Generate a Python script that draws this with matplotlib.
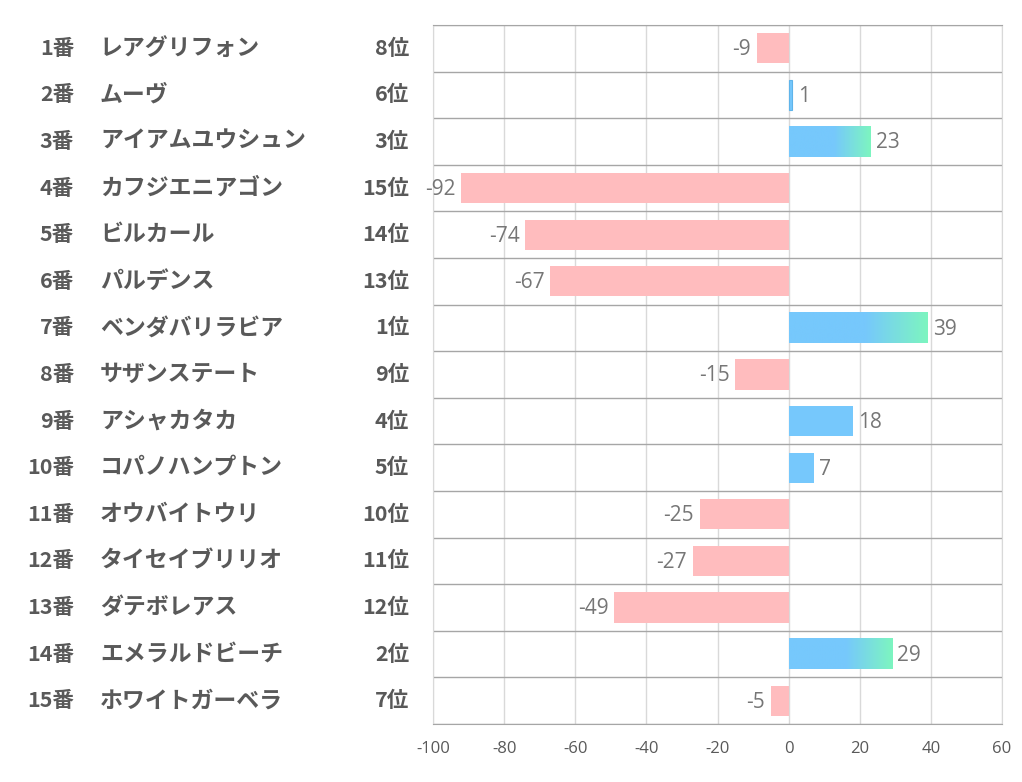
import numpy as np
import matplotlib
matplotlib.use('agg')
import matplotlib.pyplot as plt
from matplotlib.colors import LinearSegmentedColormap
from matplotlib.transforms import blended_transform_factory

plt.rcParams['font.family'] = ['Noto Sans CJK JP', 'DejaVu Sans']
plt.rcParams['axes.unicode_minus'] = False

numbers = ['1番', '2番', '3番', '4番', '5番', '6番', '7番', '8番', '9番', '10番',
           '11番', '12番', '13番', '14番', '15番']
names = ['レアグリフォン', 'ムーヴ', 'アイアムユウシュン', 'カフジエニアゴン', 'ビルカール',
         'パルデンス', 'ベンダバリラビア', 'サザンステート', 'アシャカタカ', 'コパノハンプトン',
         'オウバイトウリ', 'タイセイブリリオ', 'ダテボレアス', 'エメラルドビーチ', 'ホワイトガーベラ']
ranks = ['8位', '6位', '3位', '15位', '14位', '13位', '1位', '9位', '4位', '5位',
         '10位', '11位', '12位', '2位', '7位']
values = [-9, 1, 23, -92, -74, -67, 39, -15, 18, 7, -25, -27, -49, 29, -5]

blue = '#76c8fc'
green = '#7df5c0'
pink = '#ffbcbe'
grad = LinearSegmentedColormap.from_list('bg', [(0, blue), (0.55, blue), (1, green)])

fig = plt.figure(figsize=(10.22, 7.82), dpi=100)
ax = fig.add_axes([433 / 1022, 1 - 724 / 782, 569 / 1022, 699 / 782])

y = np.arange(len(values))
colors = [blue if v > 0 else pink for v in values]
bars = ax.barh(y, values, height=0.65, color=colors, zorder=3)

# gradient fill for the bigger positive bars
for b, v in zip(bars, values):
    if v > 20:
        b.set_alpha(0)
        img = np.linspace(0, 1, 200).reshape(1, -1)
        ax.imshow(img, cmap=grad, aspect='auto', zorder=4,
                  extent=[0, v, b.get_y() + b.get_height(), b.get_y()],
                  interpolation='bilinear')
    elif v == 1:
        b.set_edgecolor('#5fb4ea')
        b.set_linewidth(0.8)

ax.set_xlim(-100, 60)
ax.set_ylim(len(values) - 0.5, -0.5)
ax.set_xticks(np.arange(-100, 61, 20))
ax.set_yticks([])
ax.set_yticks(np.arange(len(values) + 1) - 0.5, minor=True)
ax.tick_params(axis='y', which='both', length=0, labelleft=False)
ax.tick_params(axis='x', length=0, pad=12, labelsize=12, labelcolor='#595959')
for lab in ax.get_xticklabels():
    lab.set_family(['Open Sans', 'DejaVu Sans'])
ax.grid(axis='x', color='#d9d9d9', linewidth=1, zorder=0)
ax.grid(axis='y', which='minor', color='#a6a6a6', linewidth=1, zorder=1)
for s in ['left', 'right']:
    ax.spines[s].set_color('#d9d9d9')
for s in ['top', 'bottom']:
    ax.spines[s].set_color('#a6a6a6')

# value labels
for b, v in zip(bars, values):
    yc = b.get_y() + b.get_height() / 2
    if v > 0:
        ax.annotate(str(v), (v, yc), xytext=(4, -1), textcoords='offset points',
                    ha='left', va='center', fontsize=15, color='#767676',
                    family=['Open Sans', 'DejaVu Sans'], zorder=5)
    else:
        ax.annotate(str(v), (v, yc), xytext=(-4, -1), textcoords='offset points',
                    ha='right', va='center', fontsize=15, color='#767676',
                    family=['Open Sans', 'DejaVu Sans'], zorder=5)

# left side labels
tr = blended_transform_factory(fig.transFigure, ax.transData)
for i in range(len(values)):
    ax.text(74 / 1022, i, numbers[i], transform=tr, ha='right', va='center',
            fontsize=15.5, fontweight='bold', color='#595959')
    ax.text(100 / 1022, i, names[i], transform=tr, ha='left', va='center',
            fontsize=16.5, fontweight='bold', color='#595959')
    ax.text(409 / 1022, i, ranks[i], transform=tr, ha='right', va='center',
            fontsize=15.5, fontweight='bold', color='#595959')

plt.savefig('out.png', dpi=100)
